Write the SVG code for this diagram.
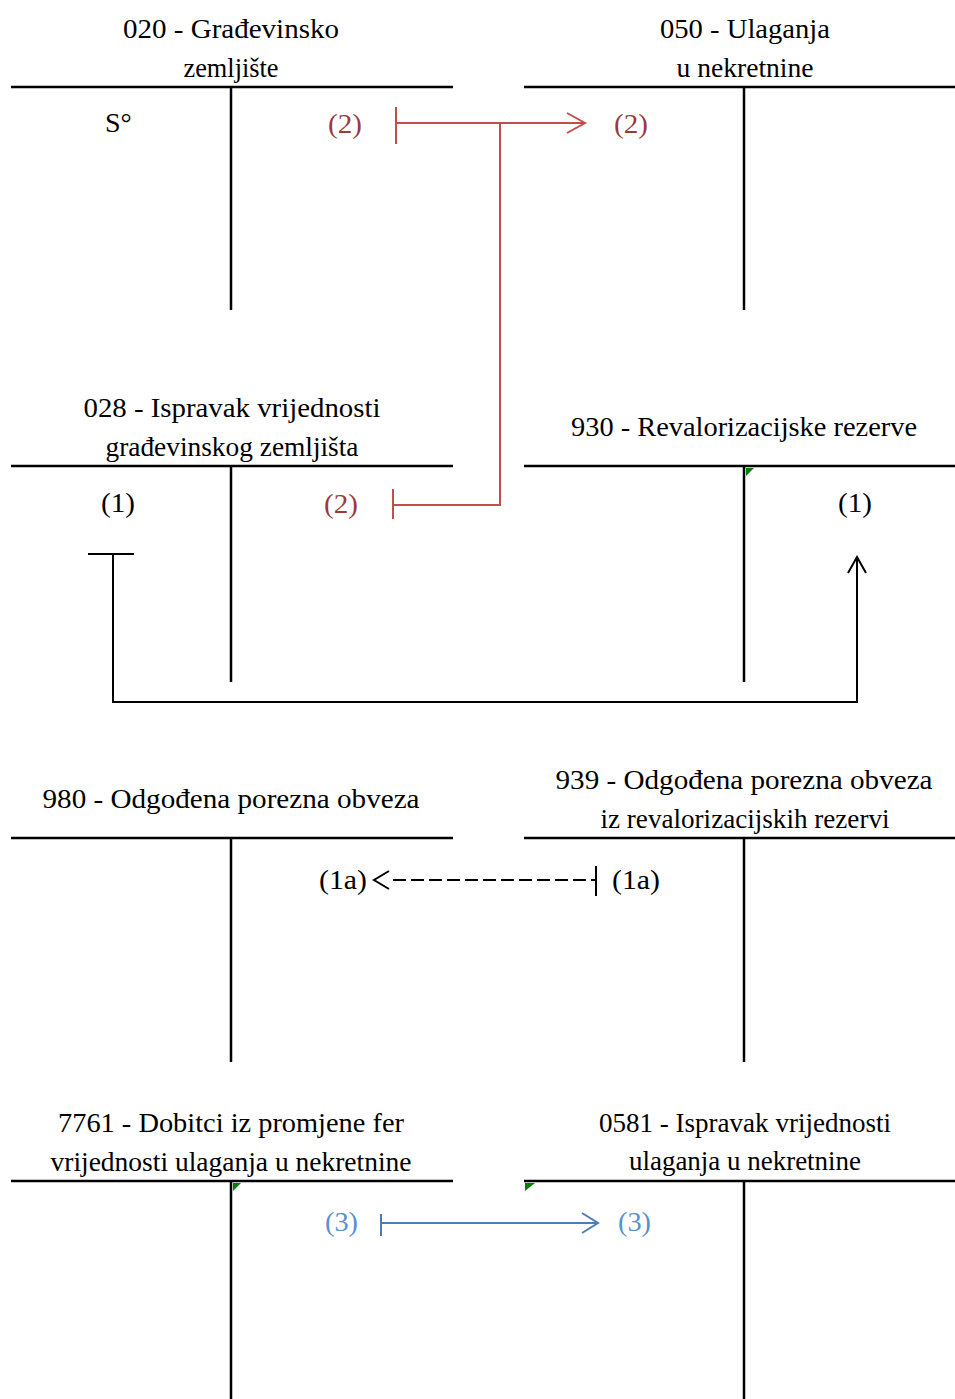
<svg xmlns="http://www.w3.org/2000/svg" width="955" height="1399" viewBox="0 0 955 1399">
<style>
.t{font-family:"Liberation Serif","Times New Roman",serif;font-size:27px;fill:#000;text-anchor:middle}
.l{font-family:"Liberation Serif","Times New Roman",serif;font-size:28px;fill:#000}
.red{fill:#9B3B39}
.blue{fill:#5A8FD2}
.ax{stroke:#000;stroke-width:2.5;fill:none}
.cr{stroke:#C0504D;stroke-width:2;fill:none}
.cb{stroke:#4A7EBB;stroke-width:2;fill:none}
.ck{stroke:#000;stroke-width:2;fill:none}
.mark{fill:#008000}
</style>
<rect width="955" height="1399" fill="#fff"/>

<g id="acc020">
<line class="ax" x1="11" y1="87" x2="453" y2="87"/>
<line class="ax" x1="231" y1="87" x2="231" y2="310"/>
<text class="t" x="231" y="38" textLength="216" lengthAdjust="spacingAndGlyphs">020 - Građevinsko</text>
<text class="t" x="231" y="77" textLength="95" lengthAdjust="spacingAndGlyphs">zemljište</text>
<text class="l" x="105" y="132">S°</text>
<text class="l red" x="328" y="133" textLength="34" lengthAdjust="spacingAndGlyphs">(2)</text>
</g>

<g id="acc050">
<line class="ax" x1="524" y1="87" x2="955" y2="87"/>
<line class="ax" x1="744" y1="87" x2="744" y2="310"/>
<text class="t" x="745" y="38" textLength="170" lengthAdjust="spacingAndGlyphs">050 - Ulaganja</text>
<text class="t" x="745" y="77" textLength="137" lengthAdjust="spacingAndGlyphs">u nekretnine</text>
<text class="l red" x="614" y="133" textLength="34" lengthAdjust="spacingAndGlyphs">(2)</text>
</g>

<g id="acc028">
<line class="ax" x1="11" y1="466" x2="453" y2="466"/>
<line class="ax" x1="231" y1="466" x2="231" y2="682"/>
<text class="t" x="232" y="417" textLength="297" lengthAdjust="spacingAndGlyphs">028 - Ispravak vrijednosti</text>
<text class="t" x="232" y="456" textLength="253" lengthAdjust="spacingAndGlyphs">građevinskog zemljišta</text>
<text class="l" x="101" y="512" textLength="34" lengthAdjust="spacingAndGlyphs">(1)</text>
<text class="l red" x="324" y="513" textLength="34" lengthAdjust="spacingAndGlyphs">(2)</text>
</g>

<g id="acc930">
<line class="ax" x1="524" y1="466" x2="955" y2="466"/>
<line class="ax" x1="744" y1="466" x2="744" y2="682"/>
<text class="t" x="744" y="436" textLength="346" lengthAdjust="spacingAndGlyphs">930 - Revalorizacijske rezerve</text>
<text class="l" x="838" y="512" textLength="34" lengthAdjust="spacingAndGlyphs">(1)</text>
</g>

<g id="acc980">
<line class="ax" x1="11" y1="838" x2="453" y2="838"/>
<line class="ax" x1="231" y1="838" x2="231" y2="1062"/>
<text class="t" x="231" y="808" textLength="377" lengthAdjust="spacingAndGlyphs">980 - Odgođena porezna obveza</text>
<text class="l" x="319" y="889" textLength="48" lengthAdjust="spacingAndGlyphs">(1a)</text>
</g>

<g id="acc939">
<line class="ax" x1="524" y1="838" x2="955" y2="838"/>
<line class="ax" x1="744" y1="838" x2="744" y2="1062"/>
<text class="t" x="744" y="789" textLength="377" lengthAdjust="spacingAndGlyphs">939 - Odgođena porezna obveza</text>
<text class="t" x="745" y="828" textLength="289" lengthAdjust="spacingAndGlyphs">iz revalorizacijskih rezervi</text>
<text class="l" x="612" y="889" textLength="48" lengthAdjust="spacingAndGlyphs">(1a)</text>
</g>

<g id="acc7761">
<line class="ax" x1="11" y1="1181" x2="453" y2="1181"/>
<line class="ax" x1="231" y1="1181" x2="231" y2="1399"/>
<text class="t" x="231" y="1132" textLength="346" lengthAdjust="spacingAndGlyphs">7761 - Dobitci iz promjene fer</text>
<text class="t" x="231" y="1171" textLength="361" lengthAdjust="spacingAndGlyphs">vrijednosti ulaganja u nekretnine</text>
<text class="l blue" x="325" y="1231" textLength="33" lengthAdjust="spacingAndGlyphs">(3)</text>
</g>

<g id="acc0581">
<line class="ax" x1="524" y1="1181" x2="955" y2="1181"/>
<line class="ax" x1="744" y1="1181" x2="744" y2="1399"/>
<text class="t" x="745" y="1132" textLength="292" lengthAdjust="spacingAndGlyphs">0581 - Ispravak vrijednosti</text>
<text class="t" x="745" y="1170" textLength="232" lengthAdjust="spacingAndGlyphs">ulaganja u nekretnine</text>
<text class="l blue" x="618" y="1231" textLength="33" lengthAdjust="spacingAndGlyphs">(3)</text>
</g>

<g id="connectors">
<line class="cr" x1="396" y1="107" x2="396" y2="144"/>
<line class="cr" x1="396" y1="123" x2="584" y2="123"/>
<polyline class="cr" points="567,113 585,123 567,133"/>
<polyline class="cr" points="392,505 500,505 500,123"/>
<line class="cr" x1="393" y1="489" x2="393" y2="519"/>
<line class="ck" x1="88" y1="554" x2="134" y2="554"/>
<polyline class="ck" points="113,554 113,702 857,702 857,558"/>
<polyline class="ck" points="848,573 857,557 866,573"/>
<line class="ck" x1="393" y1="880" x2="595" y2="880" stroke-dasharray="13,5"/>
<polyline class="ck" points="389,871 374,880 389,889"/>
<line class="ck" x1="596" y1="866" x2="596" y2="896"/>
<line class="cb" x1="381" y1="1214" x2="381" y2="1236"/>
<line class="cb" x1="381" y1="1223" x2="597" y2="1223"/>
<polyline class="cb" points="582,1213 598,1223 582,1233"/>
</g>

<g id="marks">
<polygon class="mark" points="746,468 754,468 746,476"/>
<polygon class="mark" points="233,1183 241,1183 233,1191"/>
<polygon class="mark" points="525,1183 535,1183 525,1191"/>
</g>
</svg>
